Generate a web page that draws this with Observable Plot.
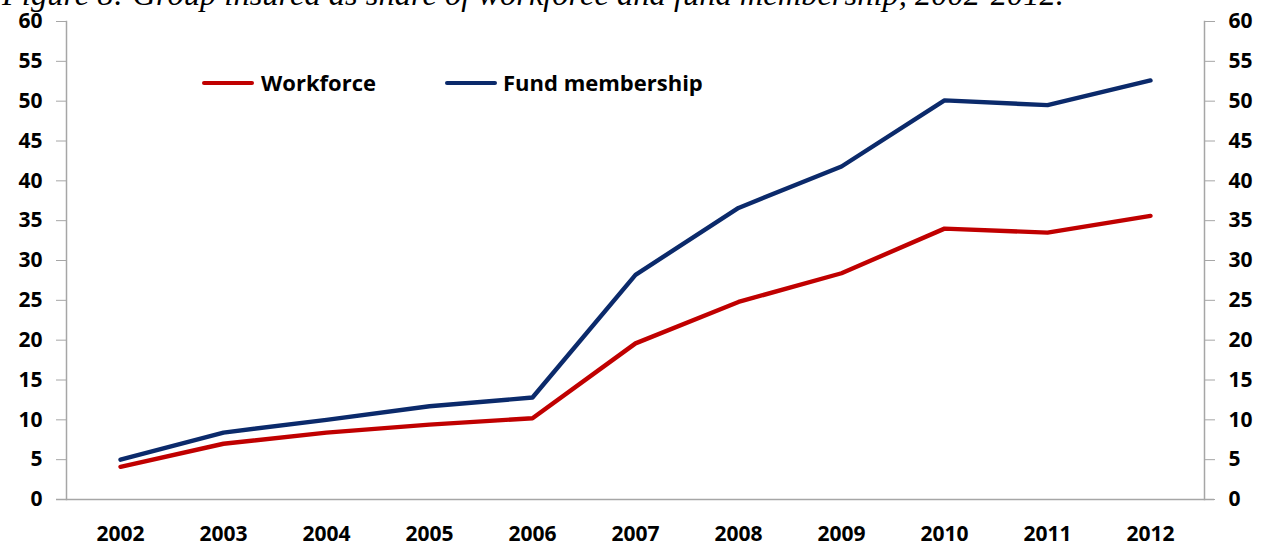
<!DOCTYPE html>
<html>
<head>
<meta charset="utf-8">
<script src="https://cdn.jsdelivr.net/npm/d3@7"></script>
<script src="https://cdn.jsdelivr.net/npm/@observablehq/plot@0.6"></script>
<style>
  html, body { margin: 0; padding: 0; background: #fff; overflow: hidden; }
  #wrap { position: relative; width: 1261px; height: 545px; overflow: hidden; }
  #title { position: absolute; left: 2px; top: -22px; font-family: "Liberation Serif", serif; font-style: italic; font-size: 32.5px; line-height: 32px; white-space: nowrap; color: #000; }
  .leg { position: absolute; font-family: "Open Sans", sans-serif; font-weight: bold; font-size: 22px; line-height: 22px; color: #000; white-space: nowrap; }
  .sw { position: absolute; height: 4px; border-radius: 2px; }
  #chart { position: absolute; left: 0; top: 0; }
</style>
</head>
<body>
<div id="wrap">
  <div id="chart"></div>
  <div id="title">Figure 8: Group insured as share of workforce and fund membership, 2002-2012.</div>
  <div id="legend"></div>
</div>
<script>
const years = ["2002","2003","2004","2005","2006","2007","2008","2009","2010","2011","2012"];
const workforce = [4.1, 7.0, 8.4, 9.4, 10.2, 19.6, 24.8, 28.4, 34.0, 33.5, 35.6];
const fundMembership = [5.0, 8.4, 10.0, 11.7, 12.8, 28.2, 36.6, 41.8, 50.1, 49.5, 52.6];
const seriesNames = ["Workforce", "Fund membership"];
const seriesColors = ["#C00000", "#0B2A6B"];
const yTicks = [0,5,10,15,20,25,30,35,40,45,50,55,60];

const data = [];
years.forEach((y, i) => {
  data.push({year: y, value: workforce[i], series: seriesNames[0]});
  data.push({year: y, value: fundMembership[i], series: seriesNames[1]});
});

const axisGray = "#a6a6a6";
const plot = Plot.plot({
  width: 1261,
  height: 545,
  marginLeft: 66,
  marginRight: 57,
  marginTop: 21,
  marginBottom: 46,
  style: { fontFamily: "Open Sans, sans-serif", fontWeight: "bold", fontSize: "21px", color: "#000", background: "transparent", overflow: "visible" },
  x: { type: "point", domain: years, padding: 0.5 },
  y: { domain: [0, 60] },
  color: { domain: seriesNames, range: seriesColors },
  marks: [
    Plot.frame({ anchor: "left", stroke: axisGray, strokeWidth: 1.5 }),
    Plot.frame({ anchor: "right", stroke: axisGray, strokeWidth: 1.5 }),
    Plot.ruleY([0], { stroke: axisGray, strokeWidth: 1.5, insetLeft: -10, insetRight: -10 }),
    Plot.axisY(yTicks, { anchor: "left", tickSize: 10, tickPadding: 14, stroke: axisGray, fill: "#000", label: null }),
    Plot.axisY(yTicks, { anchor: "right", tickSize: 10, tickPadding: 14, stroke: axisGray, fill: "#000", label: null, textAnchor: "start" }),
    Plot.axisX({ anchor: "bottom", tickSize: 0, tickPadding: 27, label: null, fill: "#000" }),
    Plot.line(data, { x: "year", y: "value", z: "series", stroke: "series", strokeWidth: 4.4, strokeLinejoin: "round", strokeLinecap: "round" })
  ]
});
document.getElementById("chart").appendChild(plot);

// legend (HTML overlay)
const legend = document.getElementById("legend");
const legPos = [{sw: 202, tx: 261}, {sw: 445, tx: 503}];
seriesNames.forEach((name, i) => {
  const sw = document.createElement("div");
  sw.className = "sw";
  sw.style.left = legPos[i].sw + "px";
  sw.style.top = "81px";
  sw.style.width = "52px";
  sw.style.background = seriesColors[i];
  legend.appendChild(sw);
  const t = document.createElement("div");
  t.className = "leg";
  t.style.left = legPos[i].tx + "px";
  t.style.top = "71px";
  t.textContent = name;
  legend.appendChild(t);
});
</script>
</body>
</html>
